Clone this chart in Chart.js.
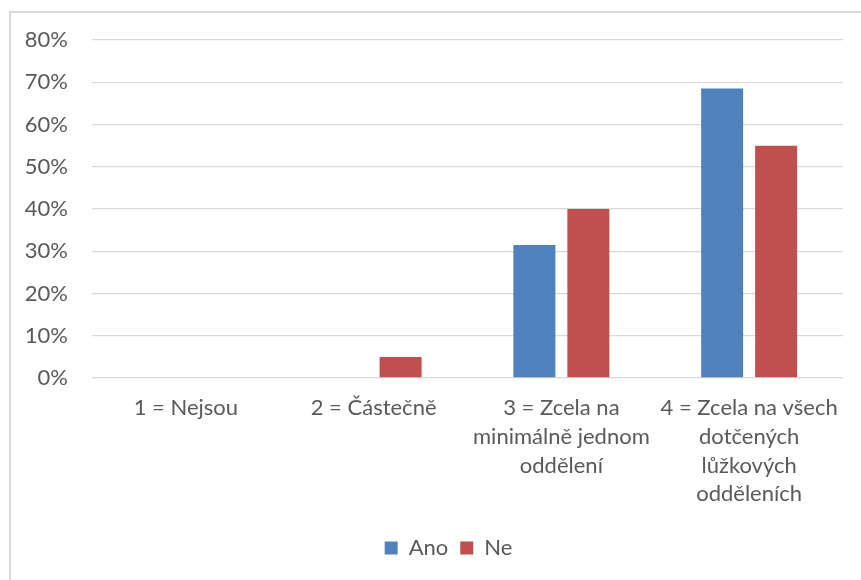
<!DOCTYPE html>
<html>
<head>
<meta charset="utf-8">
<script src="https://cdn.jsdelivr.net/npm/chart.js@4"></script>
<style>
  html, body { margin: 0; padding: 0; background: #ffffff; overflow: hidden; }
  #wrap { position: relative; width: 861px; height: 580px; }
  #frame {
    position: absolute; left: 9px; top: 11px; width: 900px; height: 620px;
    border-left: 2px solid #d9d9d9; border-top: 2px solid #d9d9d9;
  }
  canvas { position: absolute; left: 0; top: 0; }
</style>
</head>
<body>
<div id="wrap">
  <div id="frame"></div>
  <canvas id="chart" width="861" height="580"></canvas>
</div>
<script>
// Categories (multi-line labels) and the two series, in percent
const categories = [
  ['1 = Nejsou'],
  ['2 = Částečně'],
  ['3 = Zcela na', 'minimálně jednom', 'oddělení'],
  ['4 = Zcela na všech', 'dotčených', 'lůžkových', 'odděleních']
];
const seriesNames = ['Ano', 'Ne'];
const anoValues = [0, 0, 31.5, 68.5];
const neValues = [0, 5, 40, 55];
const yTicks = [0, 10, 20, 30, 40, 50, 60, 70, 80];

const FONT = 'Lato, "Open Sans", sans-serif';
const TEXT = '#595959';

// Nudges the bottom legend a little to the right of the canvas centre
const legendShift = {
  id: 'legendShift',
  afterLayout(chart) {
    if (chart.legend) {
      chart.legend.left += 27;
      chart.legend.right += 27;
    }
  }
};

new Chart(document.getElementById('chart'), {
  type: 'bar',
  data: {
    labels: categories,
    datasets: [
      { label: seriesNames[0], data: anoValues, backgroundColor: '#4f81bd' },
      { label: seriesNames[1], data: neValues, backgroundColor: '#c0504d' }
    ]
  },
  plugins: [legendShift],
  options: {
    responsive: false,
    animation: false,
    devicePixelRatio: 1,
    layout: { padding: { top: 40, right: 18, bottom: 11, left: 0 } },
    datasets: {
      bar: { categoryPercentage: 0.575, barPercentage: 0.778 }
    },
    scales: {
      x: {
        grid: { display: false, drawTicks: false },
        border: { display: false },
        ticks: {
          color: TEXT,
          font: { family: FONT, size: 22, lineHeight: 1.3 },
          padding: 16,
          maxRotation: 0,
          autoSkip: false
        },
        afterFit: (s) => { s.height = 147; }
      },
      y: {
        min: 0,
        max: 80,
        afterBuildTicks: (s) => { s.ticks = yTicks.map(v => ({ value: v })); },
        grid: { color: '#d9d9d9', lineWidth: 1.3, drawTicks: false },
        border: { display: false },
        ticks: {
          color: TEXT,
          font: { family: FONT, size: 22 },
          padding: 24,
          callback: (v) => v + '%'
        },
        afterFit: (s) => { s.width = 92; }
      }
    },
    plugins: {
      legend: {
        position: 'bottom',
        labels: {
          color: TEXT,
          font: { family: FONT, size: 22 },
          boxWidth: 13,
          boxHeight: 13,
          padding: 12
        }
      },
      tooltip: { enabled: false }
    }
  }
});
</script>
</body>
</html>
